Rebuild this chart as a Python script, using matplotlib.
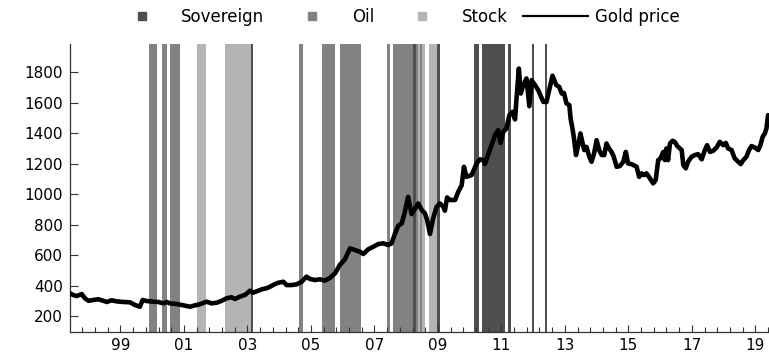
import numpy as np
import matplotlib
matplotlib.use("Agg")
import matplotlib.pyplot as plt
from matplotlib.lines import Line2D
from matplotlib.ticker import FixedLocator, FuncFormatter

# Episode windows (decimal years)
sov_start = [2003.11, 2008.22, 2008.98, 2010.13, 2010.38, 2011.20, 2011.95, 2012.37]
sov_end = [2003.17, 2008.30, 2009.06, 2010.30, 2011.11, 2011.29, 2012.02, 2012.44]

oil_start = [1999.90, 2000.31, 2000.56, 2004.61, 2005.35, 2005.91, 2007.40, 2007.57, 2008.30, 2008.45]
oil_end = [2000.14, 2000.47, 2000.88, 2004.76, 2005.77, 2006.57, 2007.49, 2008.22, 2008.38, 2008.51]

stock_start = [2001.40, 2002.29, 2008.38, 2008.51, 2008.73]
stock_end = [2001.69, 2003.11, 2008.45, 2008.58, 2008.98]

# Gold price, USD per ounce
gold_year = [
    1997.41, 1997.51, 1997.62, 1997.78, 1997.88, 1997.99, 1998.14, 1998.30, 1998.46, 1998.57,
    1998.72, 1998.88, 1999.09, 1999.30, 1999.46, 1999.61, 1999.70, 1999.83, 2000.03, 2000.19,
    2000.35, 2000.46, 2000.56, 2000.77, 2000.98, 2001.19, 2001.35, 2001.50, 2001.71, 2001.87,
    2002.03, 2002.19, 2002.34, 2002.50, 2002.61, 2002.76, 2002.92, 2003.08, 2003.18, 2003.34,
    2003.45, 2003.60, 2003.71, 2003.87, 2003.97, 2004.13, 2004.23, 2004.39, 2004.55, 2004.71,
    2004.86, 2004.97, 2005.13, 2005.28, 2005.44, 2005.60, 2005.76, 2005.91, 2006.07, 2006.23,
    2006.39, 2006.54, 2006.65, 2006.80, 2006.96, 2007.12, 2007.28, 2007.43, 2007.54, 2007.65,
    2007.75, 2007.86, 2007.96, 2008.06, 2008.17, 2008.28, 2008.38, 2008.49, 2008.59, 2008.66,
    2008.75, 2008.85, 2008.96, 2009.06, 2009.17, 2009.22, 2009.29, 2009.38, 2009.54, 2009.64,
    2009.75, 2009.82, 2009.90, 2010.06, 2010.22, 2010.32, 2010.43, 2010.48, 2010.58, 2010.69,
    2010.80, 2010.90, 2010.97, 2011.06, 2011.16, 2011.25, 2011.35, 2011.43, 2011.48, 2011.55,
    2011.61, 2011.69, 2011.79, 2011.88, 2011.95, 2012.06, 2012.16, 2012.32, 2012.42, 2012.53,
    2012.61, 2012.73, 2012.82, 2012.90, 2012.97, 2013.05, 2013.14, 2013.18, 2013.23, 2013.28,
    2013.35, 2013.42, 2013.49, 2013.56, 2013.61, 2013.68, 2013.77, 2013.84, 2013.92, 2014.00,
    2014.08, 2014.16, 2014.24, 2014.31, 2014.39, 2014.47, 2014.54, 2014.63, 2014.73, 2014.84,
    2014.92, 2014.99, 2015.10, 2015.18, 2015.26, 2015.34, 2015.42, 2015.49, 2015.57, 2015.68,
    2015.78, 2015.86, 2015.94, 2016.01, 2016.10, 2016.15, 2016.20, 2016.25, 2016.31, 2016.39,
    2016.46, 2016.54, 2016.62, 2016.68, 2016.73, 2016.81, 2016.88, 2016.99, 2017.09, 2017.20,
    2017.31, 2017.41, 2017.48, 2017.57, 2017.67, 2017.78, 2017.88, 2017.99, 2018.07, 2018.14,
    2018.25, 2018.35, 2018.46, 2018.54, 2018.62, 2018.72, 2018.80, 2018.88, 2018.98, 2019.09,
    2019.16, 2019.23, 2019.30, 2019.35, 2019.40,
]
gold_price = [
    349, 338, 331, 344, 316, 300, 305, 310, 300, 292,
    303, 296, 292, 290, 272, 261, 305, 298, 294, 292,
    283, 292, 283, 279, 270, 261, 270, 277, 294, 283,
    287, 300, 316, 323, 312, 327, 338, 366, 353, 366,
    375, 382, 392, 410, 418, 425, 403, 403, 408, 425,
    458, 443, 436, 441, 432, 450, 480, 535, 572, 644,
    633, 622, 607, 637, 654, 672, 677, 666, 677, 742,
    792, 808, 884, 982, 869, 906, 939, 895, 874, 830,
    738, 841, 917, 939, 917, 891, 978, 961, 961, 1015,
    1059, 1179, 1113, 1125, 1201, 1228, 1223, 1197, 1256, 1321,
    1387, 1420, 1336, 1409, 1431, 1518, 1540, 1490, 1638, 1824,
    1660, 1715, 1759, 1577, 1748, 1715, 1682, 1605, 1605, 1704,
    1777, 1715, 1704, 1660, 1664, 1595, 1584, 1496, 1441, 1376,
    1256, 1321, 1398, 1332, 1289, 1310, 1245, 1212, 1267, 1354,
    1289, 1256, 1256, 1332, 1300, 1277, 1245, 1179, 1184, 1212,
    1277, 1201, 1197, 1188, 1179, 1113, 1136, 1125, 1136, 1103,
    1070, 1092, 1223, 1234, 1277, 1223, 1300, 1223, 1332, 1350,
    1343, 1315, 1300, 1289, 1190, 1169, 1212, 1245, 1256, 1262,
    1228, 1289, 1321, 1277, 1284, 1306, 1343, 1321, 1336, 1300,
    1289, 1234, 1212, 1197, 1223, 1245, 1289, 1315, 1306, 1289,
    1321, 1376, 1398, 1431, 1518,
]

legend_labels = ["Sovereign", "Oil", "Stock", "Gold price"]
year_ticks = list(range(1999, 2020, 2))
price_ticks = list(range(200, 1801, 200))

SOV_COLOR = "#4f4f4f"
OIL_COLOR = "#828282"
STOCK_COLOR = "#b4b4b4"

plt.rcParams["font.family"] = ["DejaVu Sans"]

fig = plt.figure(figsize=(7.69, 3.54), dpi=100)
ax = fig.add_axes([70 / 769, 22 / 354, 699 / 769, 288 / 354])

for starts, ends, col in ((oil_start, oil_end, OIL_COLOR),
                          (stock_start, stock_end, STOCK_COLOR),
                          (sov_start, sov_end, SOV_COLOR)):
    for s, e in zip(starts, ends):
        ax.axvspan(s, e, color=col, lw=0, zorder=1)

ax.plot(gold_year, gold_price, color="black", lw=3.3, solid_joinstyle="round",
        solid_capstyle="round", zorder=3)

ax.set_xlim(1997.41, 2019.43)
ax.set_ylim(95, 1985)

ax.set_xticks(year_ticks)
ax.xaxis.set_major_formatter(FuncFormatter(lambda v, p: f"{int(round(v)) % 100:02d}"))
minor = [1997.4 + 0.4 * i for i in range(56) if all(abs(1997.4 + 0.4 * i - t) > 0.05 for t in year_ticks)]
ax.xaxis.set_minor_locator(FixedLocator(minor))
ax.set_yticks(price_ticks)

for side in ("top", "right"):
    ax.spines[side].set_visible(False)
for side in ("left", "bottom"):
    ax.spines[side].set_color("#333333")
    ax.spines[side].set_linewidth(0.9)

ax.tick_params(axis="both", which="both", direction="in", colors="#333333",
               labelcolor="black", labelsize=11, width=0.8)
ax.tick_params(axis="y", which="major", length=6, pad=5)
ax.tick_params(axis="x", which="major", length=5, pad=4)
ax.tick_params(axis="x", which="minor", length=3.5)

handles = [
    Line2D([], [], ls="none", marker="s", ms=6, mfc=SOV_COLOR, mec=SOV_COLOR),
    Line2D([], [], ls="none", marker="s", ms=6, mfc=OIL_COLOR, mec=OIL_COLOR),
    Line2D([], [], ls="none", marker="s", ms=6, mfc=STOCK_COLOR, mec=STOCK_COLOR),
    Line2D([], [], color="black", lw=1.6),
]
fig.legend(handles, legend_labels, loc="center", bbox_to_anchor=(0.513, 0.952),
           ncol=4, frameon=False, fontsize=12, handlelength=3.9,
           handletextpad=0.42, columnspacing=0.93)

fig.savefig("out.png", dpi=100)
